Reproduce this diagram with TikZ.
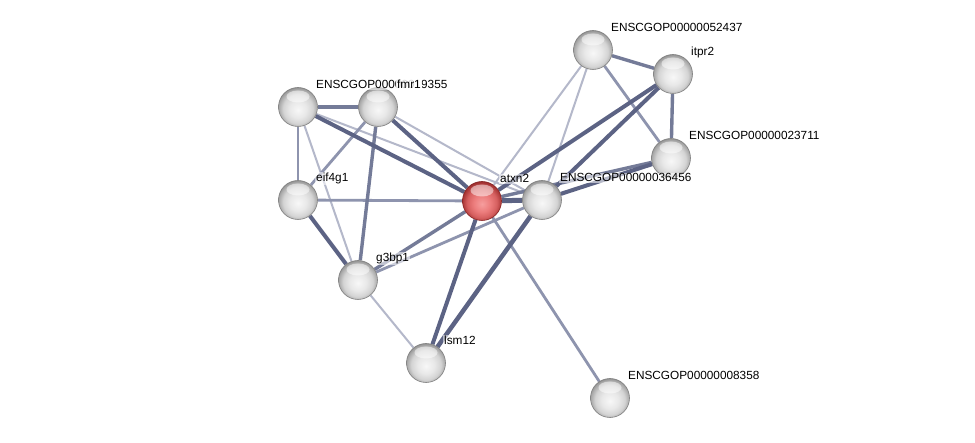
\documentclass[tikz,border=0pt]{standalone}
\usepackage{fontspec}
\setmainfont{Liberation Sans}
\usetikzlibrary{backgrounds}
\definecolor{eA}{RGB}{180,184,202}
\definecolor{eB}{RGB}{142,148,174}
\definecolor{eC}{RGB}{116,123,152}
\definecolor{eD}{RGB}{92,99,132}
\definecolor{rA}{RGB}{246,158,158}
\definecolor{rB}{RGB}{236,124,124}
\definecolor{rC}{RGB}{214,96,96}
\definecolor{rD}{RGB}{170,55,55}
\definecolor{rE}{RGB}{135,35,35}
\pgfdeclareradialshading{sphgray}{\pgfpoint{0bp}{-4bp}}{color(0bp)=(white!97!black); color(11bp)=(white!91!black); color(19bp)=(white!83!black); color(25bp)=(white!65!black); color(29bp)=(white!48!black); color(50bp)=(white!48!black)}
\pgfdeclareradialshading{sphred}{\pgfpoint{0bp}{-4bp}}{color(0bp)=(rA); color(11bp)=(rB); color(19bp)=(rC); color(25bp)=(rD); color(29bp)=(rE); color(50bp)=(rE)}
\begin{document}
\begin{tikzpicture}[x=1pt,y=-1pt,
  hl/.style={path picture={\fill[white,opacity=0.5] ([yshift=10.5pt]path picture bounding box.center) ellipse [x radius=11.5pt,y radius=6pt];}},
  prot/.style={circle,minimum size=39pt,inner sep=0pt,shading=sphgray,draw=white!50!black,line width=0.6pt,hl},
  qprot/.style={prot,shading=sphred,draw=rE},
  lab/.style={anchor=base west,inner sep=1pt,fill=white,fill opacity=0.55,text opacity=1,font=\fontsize{11.8}{13}\selectfont},
  eA/.style={draw=eA,line width=2pt},
  eB/.style={draw=eB,line width=2.8pt},
  eC/.style={draw=eC,line width=3.4pt},
  eD/.style={draw=eD,line width=4pt}]
\useasboundingbox (0,0) rectangle (975,443);
% nodes
\node[prot] (e19355) at (298,107) {};
\node[prot] (fmr1) at (378,107) {};
\node[prot] (eif4g1) at (298,200) {};
\node[prot] (g3bp1) at (358,280) {};
\node[prot] (lsm12) at (426,363) {};
\node[qprot] (atxn2) at (482,201) {};
\node[prot] (e36456) at (542,200) {};
\node[prot] (e52437) at (593,50) {};
\node[prot] (itpr2) at (673,74) {};
\node[prot] (e23711) at (671,158) {};
\node[prot] (e8358) at (610,398) {};
% edges
\begin{scope}[on background layer]
\fill[white] (0,0) rectangle (975,443);
\draw[eA] (e19355) -- (g3bp1);
\draw[eA] (e19355) -- (e36456);
\draw[eA] (fmr1) -- (e36456);
\draw[eA] (g3bp1) -- (lsm12);
\draw[eA] (atxn2) -- (e52437);
\draw[eA] (e36456) -- (e52437);
\draw[eB] (e19355) -- (eif4g1);
\draw[eB] (fmr1) -- (eif4g1);
\draw[eB] (eif4g1) -- (atxn2);
\draw[eB] (g3bp1) -- (e36456);
\draw[eB] (atxn2) -- (e8358);
\draw[eB] (e52437) -- (e23711);
\draw[eC] (e19355) -- (fmr1);
\draw[eC] (fmr1) -- (g3bp1);
\draw[eC] (g3bp1) -- (atxn2);
\draw[eC] (atxn2) -- (e23711);
\draw[eC] (e52437) -- (itpr2);
\draw[eC] (itpr2) -- (e23711);
\draw[eD] (e19355) -- (atxn2);
\draw[eD] (fmr1) -- (atxn2);
\draw[eD] (eif4g1) -- (g3bp1);
\draw[eD] (lsm12) -- (atxn2);
\draw[eD,line width=4.5pt] (lsm12) -- (e36456);
\draw[eD,line width=5pt] (atxn2) -- (e36456);
\draw[eD] (atxn2) -- (itpr2);
\draw[eD] (e36456) -- (itpr2);
\draw[eD] (e36456) -- (e23711);
\end{scope}
% labels
\node[lab] (l19355) at ([shift={(17,-18)}]e19355.center) {ENSCGOP00000019355};
\node[lab,fill opacity=0.85] (lfmr1) at ([shift={(18,-18)}]fmr1.center) {fmr1};
\node[lab] (leif4g1) at ([shift={(17,-18)}]eif4g1.center) {eif4g1};
\node[lab] (lg3bp1) at ([shift={(17,-18)}]g3bp1.center) {g3bp1};
\node[lab] (llsm12) at ([shift={(17,-18)}]lsm12.center) {lsm12};
\node[lab] (latxn2) at ([shift={(17,-18)}]atxn2.center) {atxn2};
\node[lab] (l36456) at ([shift={(17,-18)}]e36456.center) {ENSCGOP00000036456};
\node[lab] (l52437) at ([shift={(17,-18)}]e52437.center) {ENSCGOP00000052437};
\node[lab] (litpr2) at ([shift={(17,-18)}]itpr2.center) {itpr2};
\node[lab] (l23711) at ([shift={(17,-18)}]e23711.center) {ENSCGOP00000023711};
\node[lab] (l8358) at ([shift={(17,-18)}]e8358.center) {ENSCGOP00000008358};
\end{tikzpicture}
\end{document}
